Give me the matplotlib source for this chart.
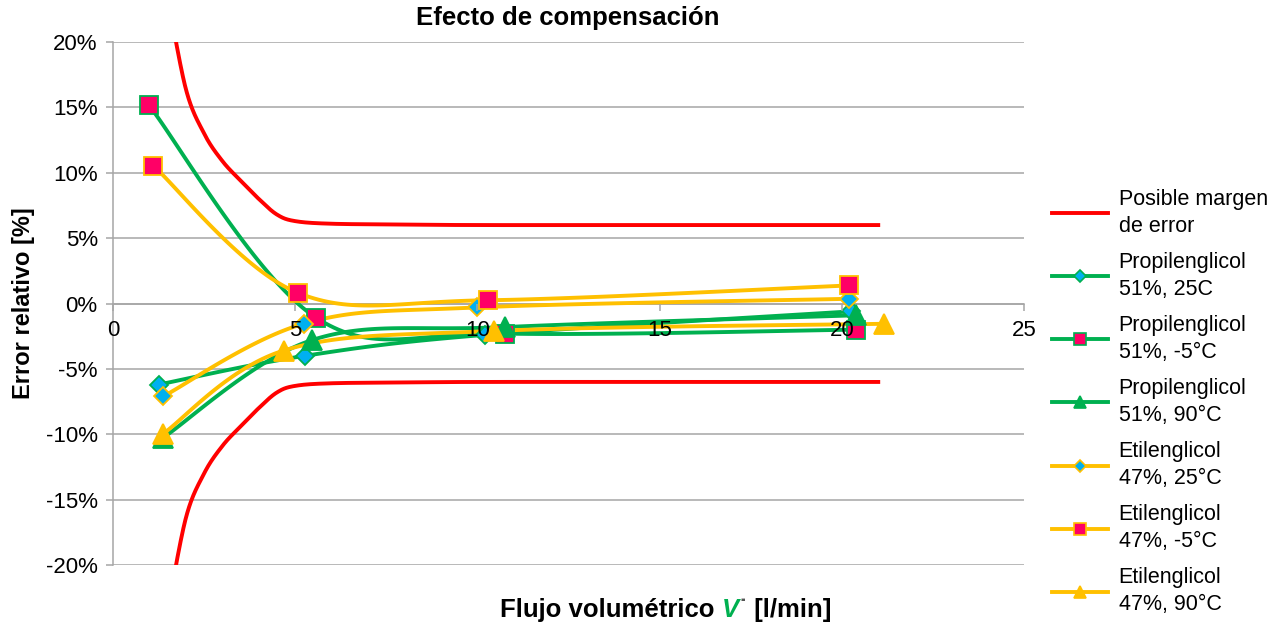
import numpy as np
import matplotlib
matplotlib.use("Agg")
import matplotlib.pyplot as plt
from matplotlib.lines import Line2D
from matplotlib.ticker import FuncFormatter, MultipleLocator
from matplotlib.offsetbox import TextArea, HPacker, AnchoredOffsetbox

plt.rcParams['font.family'] = ['Liberation Sans', 'DejaVu Sans']

# --- data (flow in l/min, relative error in %) ---
err_x = [1.5, 2.0, 2.5, 3.0, 3.5, 4.0, 4.5, 5.0, 6.0, 8.0, 10.0, 15.0, 21.0]
err_hi = [23.5, 16.4, 13.0, 10.9, 9.4, 8.0, 6.8, 6.3, 6.1, 6.04, 6.0, 6.0, 6.0]
err_lo = [-v for v in err_hi]

pg25_x = [1.25, 5.27, 10.2, 20.26]
pg25_y = [-6.2, -4.0, -2.4, -0.6]
pgm5_x = [0.99, 5.58, 10.77, 20.4]
pgm5_y = [15.15, -1.1, -2.3, -2.0]
pg90_x = [1.38, 5.46, 10.77, 20.4]
pg90_y = [-10.25, -2.8, -1.8, -0.9]
eg25_x = [1.38, 5.23, 10.0, 20.2]
eg25_y = [-7.1, -1.55, -0.3, 0.36]
egm5_x = [1.1, 5.07, 10.29, 20.2]
egm5_y = [10.55, 0.82, 0.25, 1.38]
eg90_x = [1.38, 4.68, 10.45, 21.16]
eg90_y = [-9.95, -3.6, -2.1, -1.55]

labels = ["Posible margen\nde error",
          "Propilenglicol\n51%, 25C", "Propilenglicol\n51%, -5°C", "Propilenglicol\n51%, 90°C",
          "Etilenglicol\n47%, 25°C", "Etilenglicol\n47%, -5°C", "Etilenglicol\n47%, 90°C"]

RED = "#FF0000"
GREEN = "#00B050"
GOLD = "#FFC000"
CYAN = "#00B0F0"
PINK = "#FF0066"


def smooth(x, y, n=40):
    # Excel-like smoothed line (Catmull-Rom through the points)
    pts = np.column_stack([x, y]).astype(float)
    out = [pts[0]]
    t = np.linspace(0, 1, n)[1:, None]
    for i in range(len(pts) - 1):
        p0 = pts[max(i - 1, 0)]
        p1 = pts[i]
        p2 = pts[i + 1]
        p3 = pts[min(i + 2, len(pts) - 1)]
        c1 = p1 + (p2 - p0) / 6
        c2 = p2 - (p3 - p1) / 6
        seg = (1 - t) ** 3 * p1 + 3 * (1 - t) ** 2 * t * c1 + 3 * (1 - t) * t ** 2 * c2 + t ** 3 * p2
        out.extend(seg)
    out = np.array(out)
    return out[:, 0], out[:, 1]


fig = plt.figure(figsize=(12.8, 6.31), dpi=100)
ax = fig.add_axes([113 / 1280, 66 / 631, 911 / 1280, 523 / 631])

ax.set_xlim(0, 25)
ax.set_ylim(-20, 20)
ax.yaxis.set_major_locator(MultipleLocator(5))
ax.xaxis.set_major_locator(MultipleLocator(5))
ax.yaxis.set_major_formatter(FuncFormatter(lambda v, p: f"{v:.0f}%"))
ax.grid(axis='y', color='#A6A6A6', lw=1.1)
ax.set_axisbelow(True)
for s in ['top', 'right']:
    ax.spines[s].set_visible(False)
ax.spines['left'].set_color('#A6A6A6')
ax.spines['left'].set_linewidth(1.1)
ax.spines['bottom'].set_position(('data', 0))
ax.spines['bottom'].set_color('#A6A6A6')
ax.spines['bottom'].set_linewidth(1.1)
ax.tick_params(axis='both', colors='#A6A6A6', labelcolor='black', labelsize=16, length=5, width=1.1)
ax.tick_params(axis='x', pad=7)
ax.tick_params(axis='y', pad=6)
# x tick labels sit on top of the series, like in Excel
ax.xaxis.set_zorder(5)

lw = 2.8
ax.plot(*smooth(err_x, err_hi), color=RED, lw=lw, zorder=3)
ax.plot(*smooth(err_x, err_lo), color=RED, lw=lw, zorder=3)

series = [
    (pg25_x, pg25_y, GREEN, 'D', CYAN, GREEN, 9.5),
    (pgm5_x, pgm5_y, GREEN, 's', PINK, GREEN, 13.5),
    (pg90_x, pg90_y, GREEN, '^', GREEN, GREEN, 14),
    (eg25_x, eg25_y, GOLD, 'D', CYAN, GOLD, 9.5),
    (egm5_x, egm5_y, GOLD, 's', PINK, GOLD, 13.5),
    (eg90_x, eg90_y, GOLD, '^', GOLD, GOLD, 14),
]

handles = [Line2D([], [], color=RED, lw=lw)]
for x, y, col, mk, fc, ec, ms in series:
    ax.plot(*smooth(x, y), color=col, lw=lw, zorder=3)
    ax.plot(x, y, ls='none', marker=mk, ms=ms, mfc=fc, mec=ec, mew=1.3, zorder=4)
    handles.append(Line2D([], [], color=col, lw=lw, marker=mk, ms=ms * 0.6,
                          mfc=fc, mec=ec, mew=1.2))

fig.legend(handles, labels, loc='center left', bbox_to_anchor=(1052 / 1280, 1 - 402 / 631),
           frameon=False, fontsize=15.5, handlelength=2.6, handletextpad=0.5,
           labelspacing=0.68, borderpad=0, borderaxespad=0)
for t in fig.legends[0].get_texts():
    t.set_linespacing(1.4)

fig.text(568 / 1280, 1 - 18 / 631, "Efecto de compensación", ha='center', va='center',
         fontsize=18.5, fontweight='bold')
ax.set_ylabel("Error relativo [%]", fontsize=17, fontweight='bold', labelpad=8)

# x axis title with green flow symbol
fs = 18.5
parts = [
    TextArea("Flujo volumétrico ", textprops=dict(fontsize=fs, fontweight='bold', color='black')),
    TextArea("V", textprops=dict(fontsize=fs, fontweight='bold', style='italic', color=GREEN)),
    TextArea("˙", textprops=dict(fontsize=fs, fontweight='bold', color='#555555')),
    TextArea(" [l/min]", textprops=dict(fontsize=fs, fontweight='bold', color='black')),
]
box = HPacker(children=parts, align='baseline', pad=0, sep=0)
anch = AnchoredOffsetbox(loc='center', child=box, frameon=False, pad=0, borderpad=0,
                         bbox_to_anchor=(666 / 1280, 1 - 610 / 631),
                         bbox_transform=fig.transFigure)
fig.add_artist(anch)

fig.savefig("out.png", dpi=100)
